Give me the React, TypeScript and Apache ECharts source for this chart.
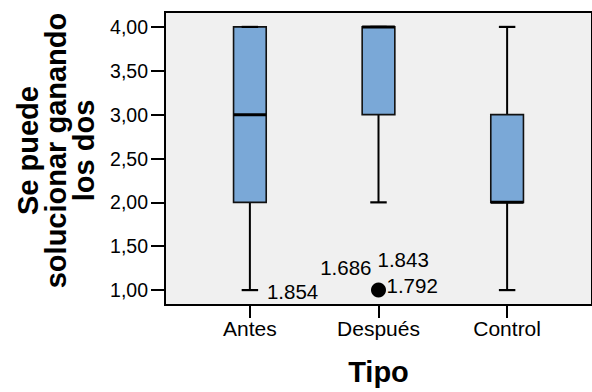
import React, { useEffect, useRef } from "react";
import * as echarts from "echarts";

const categories = ["Antes", "Después", "Control"];
const boxMin = [1, 2, 1];
const boxQ1 = [2, 3, 2];
const boxMedian = [3, 4, 2];
const boxQ3 = [4, 4, 3];
const boxMax = [4, 4, 4];

const yTicks = [1, 1.5, 2, 2.5, 3, 3.5, 4];

const outlierCategory = [2];
const outlierValue = [1];

const caseLabels = ["1.854", "1.686", "1.843", "1.792"];
const caseCategory = [1, 2, 2, 2];
const caseValue = [1, 1, 1, 1];

// layout of case labels (pixel offsets from the point, alignment)
const caseLabelLayout = [
  { dx: 17, dy: 1, align: "left" },
  { dx: -7, dy: -23, align: "right" },
  { dx: -1, dy: -31, align: "left" },
  { dx: 8, dy: -5, align: "left" },
];

const FONT = 'Arial, "Liberation Sans", sans-serif';

export default function App() {
  const ref = useRef<HTMLDivElement>(null);
  useEffect(() => {
    if (!ref.current) return;
    const chart = echarts.init(ref.current, undefined, { renderer: "svg" });
    const boxData = categories.map((_, i) => [i + 1, boxMin[i], boxQ1[i], boxMedian[i], boxQ3[i], boxMax[i]]);
    const outlierData = outlierCategory.map((c, i) => [c, outlierValue[i]]);
    const labelData = caseLabels.map((_, i) => [caseCategory[i], caseValue[i]]);

    chart.setOption({
      animation: false,
      backgroundColor: "#ffffff",
      textStyle: { fontFamily: FONT },
      grid: {
        left: 165,
        top: 12,
        width: 433,
        height: 293,
        show: true,
        backgroundColor: "#f0f0f0",
        borderColor: "#000",
        borderWidth: 2,
      },
      xAxis: {
        type: "value",
        min: 0.34,
        max: 3.66,
        splitLine: { show: false },
        axisLine: { show: true, lineStyle: { color: "#000", width: 2 } },
        axisTick: { show: true, customValues: [1, 2, 3], length: 13, lineStyle: { color: "#000", width: 2 } },
        axisLabel: {
          customValues: [1, 2, 3],
          formatter: (v: number) => categories[Math.round(v) - 1] ?? "",
          color: "#000",
          fontSize: 21,
          margin: 13,
          fontFamily: FONT,
        },
        name: "Tipo",
        nameLocation: "middle",
        nameGap: 52,
        nameTextStyle: { color: "#000", fontSize: 29, fontWeight: "bold", fontFamily: FONT },
      },
      yAxis: {
        type: "value",
        min: 0.83,
        max: 4.17,
        splitLine: { show: false },
        axisLine: { show: true, lineStyle: { color: "#000", width: 2 } },
        axisTick: { show: true, customValues: yTicks, length: 14, lineStyle: { color: "#000", width: 2 } },
        axisLabel: {
          customValues: yTicks,
          formatter: (v: number) => v.toFixed(2).replace(".", ","),
          color: "#000",
          fontSize: 19.5,
          margin: 17,
          fontFamily: FONT,
        },
        name: "Se puede\nsolucionar ganando\nlos dos",
        nameLocation: "middle",
        nameRotate: 90,
        nameGap: 67,
        nameTextStyle: {
          color: "#000",
          fontSize: 29,
          fontWeight: "bold",
          lineHeight: 28,
          align: "center",
          padding: [0, 0, 0, 16],
          fontFamily: FONT,
        },
      },
      series: [
        {
          type: "custom",
          data: boxData,
          encode: { x: 0, y: [1, 2, 3, 4, 5] },
          renderItem: (params: any, api: any) => {
            const x = api.value(0);
            const pMin = api.coord([x, api.value(1)]);
            const pQ1 = api.coord([x, api.value(2)]);
            const pMed = api.coord([x, api.value(3)]);
            const pQ3 = api.coord([x, api.value(4)]);
            const pMax = api.coord([x, api.value(5)]);
            const band = api.size([1, 0])[0];
            const halfW = band * 0.127;
            const capHalf = band * 0.064;
            const cx = pMin[0];
            const lineStyle = { stroke: "#000", lineWidth: 2 };
            return {
              type: "group",
              children: [
                { type: "line", shape: { x1: cx, y1: pMin[1], x2: cx, y2: pQ1[1] }, style: lineStyle },
                { type: "line", shape: { x1: cx, y1: pQ3[1], x2: cx, y2: pMax[1] }, style: lineStyle },
                {
                  type: "rect",
                  shape: { x: cx - halfW, y: pQ3[1], width: halfW * 2, height: pQ1[1] - pQ3[1] },
                  style: { fill: "#7aa8d7", stroke: "#111", lineWidth: 1.6 },
                },
                { type: "line", shape: { x1: cx - capHalf, y1: pMin[1], x2: cx + capHalf, y2: pMin[1] }, style: { stroke: "#000", lineWidth: 2.2 } },
                { type: "line", shape: { x1: cx - capHalf, y1: pMax[1], x2: cx + capHalf, y2: pMax[1] }, style: { stroke: "#000", lineWidth: 2.2 } },
                { type: "line", shape: { x1: cx - halfW, y1: pMed[1], x2: cx + halfW, y2: pMed[1] }, style: { stroke: "#000", lineWidth: 3 } },
              ],
            };
          },
        },
        {
          type: "scatter",
          data: outlierData,
          symbol: "circle",
          symbolSize: 15,
          itemStyle: { color: "#000", opacity: 1 },
        },
        {
          type: "custom",
          data: labelData,
          encode: { x: 0, y: 1 },
          renderItem: (params: any, api: any) => {
            const p = api.coord([api.value(0), api.value(1)]);
            const lay = caseLabelLayout[params.dataIndex];
            return {
              type: "text",
              x: p[0] + lay.dx,
              y: p[1] + lay.dy,
              style: {
                text: caseLabels[params.dataIndex],
                fill: "#000",
                fontSize: 20.5,
                fontFamily: FONT,
                textAlign: lay.align,
                textVerticalAlign: "middle",
              },
            };
          },
        },
      ],
    });
    return () => chart.dispose();
  }, []);
  return (
    <div
      ref={ref}
      style={{ position: "fixed", left: 0, top: 0, width: 592, height: 392, background: "#fff" }}
    />
  );
}
